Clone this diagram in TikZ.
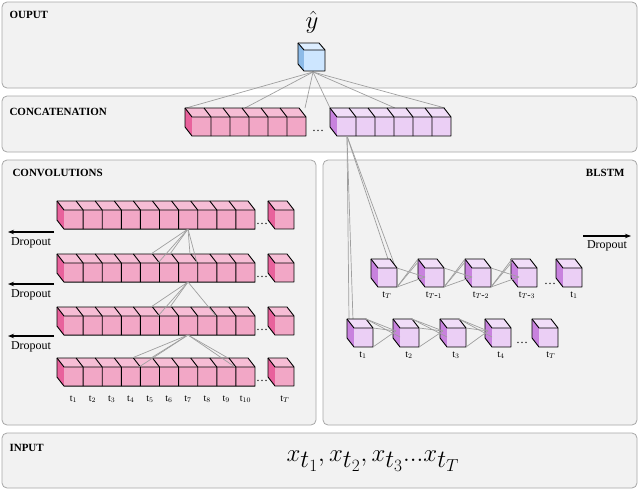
\documentclass[tikz,border=0pt]{standalone}
\usepackage{fontspec}
\setmainfont{Liberation Serif}
\usetikzlibrary{arrows.meta}
\definecolor{pf}{HTML}{F2A7C6}\definecolor{pt}{HTML}{F6BDD5}\definecolor{ps}{HTML}{E8629C}
\definecolor{vf}{HTML}{EBCFF5}\definecolor{vt}{HTML}{F1DDF8}\definecolor{vs}{HTML}{C882DE}
\definecolor{bf}{HTML}{CDE6FF}\definecolor{bt}{HTML}{DDEEFF}\definecolor{bs}{HTML}{8DBBE8}
\definecolor{panel}{HTML}{F2F2F2}
\newcommand\blk[9]{%
 \pgfmathsetmacro\bw{#3*#4}%
 \fill[#8] (#1,#2)--++(-#5,-#6)--++(\bw,0)--(#1+\bw,#2)--cycle;
 \fill[#9] (#1,#2)--++(-#5,-#6)--++(0,#4)--(#1,#2+#4)--cycle;
 \fill[#7] (#1,#2) rectangle ++(\bw,#4);
 \draw[cube] (#1,#2+#4)--++(-#5,-#6)--++(0,-#4)--++(\bw,0)--++(#5,#6)--++(0,#4)--cycle;
 \draw[cube] (#1-#5,#2-#6)--(#1,#2)--(#1+\bw,#2);
 \pgfmathtruncatemacro\nn{#3-1}%
 \ifnum\nn>0
 \foreach \i in {1,...,\nn}{\draw[cube] (#1+\i*#4,#2+#4)--(#1+\i*#4,#2)--++(-#5,-#6);}
 \fi}
\tikzset{x=1pt,y=-1pt,cube/.style={line width=0.9pt,line join=round},
 panelst/.style={draw=gray!70,fill=panel,rounded corners=5pt,line width=0.8pt},
 title/.style={font=\fontsize{11}{13}\selectfont\bfseries,anchor=west},
 lab/.style={font=\fontsize{12}{14}\selectfont},
 tl/.style={font=\fontsize{10}{11}\selectfont},
 conn/.style={draw=gray!75,line width=0.7pt},
 drop/.style={-{Stealth[length=6pt]},line width=1.2pt}}
\begin{document}
\begin{tikzpicture}
\useasboundingbox (0,0) rectangle (640,490);
\draw[panelst] (2,2) rectangle (637,88);
\draw[panelst] (2,96) rectangle (637,152);
\draw[panelst] (2,160) rectangle (316,425);
\draw[panelst] (323,160) rectangle (637,425);
\draw[panelst] (2,433) rectangle (637,488);
\node[title] (t1) at (6,15) {OUPUT};
\node[title] (t2) at (6,112) {CONCATENATION};
\node[title] (t3) at (9,173) {CONVOLUTIONS};
\node[title,anchor=east] (t4) at (628,173) {BLSTM};
\node[title] (t5) at (6,448) {INPUT};
% output
\node[inner sep=0pt] (yh) at (312,22) {\fontsize{26}{28}\selectfont$\hat{y}$};
\coordinate (ob) at (313,72);
\foreach \p in {(186,108),(245,108),(305,108),(330,108),(395,108),(445,108)} \draw[conn] (ob)--\p;
\blk{304}{50}{1}{21}{6}{7}{bf}{bt}{bs}
% concatenation
\blk{192}{117}{6}{19}{7}{9}{pf}{pt}{ps}
\node[lab] (cd) at (318,131) {\dots};
\blk{337}{117}{6}{19}{7}{9}{vf}{vt}{vs}
\coordinate (cb) at (347,136);
% convolution rows
\foreach \yy/\k in {210/a,263/b,316/c,367/d}{
 \blk{64}{\yy}{10}{19.1}{7}{9}{pf}{pt}{ps}
 \node[lab] at (262,\yy+14) {\dots};
 \blk{275}{\yy}{1}{19}{7}{9}{pf}{pt}{ps}
}
\foreach \yy in {232,284,336}{
 \coordinate (da) at (54,\yy); \coordinate (db) at (8,\yy);
 \draw[drop] (da)--(db);
 \node[lab] at (31,\yy+11) {Dropout};
}
% conv connections
\coordinate (c1) at (188,229);
\foreach \p in {(151,254),(170,254),(190,254),(158,263),(197,263)} \draw[conn] (c1)--\p;
\coordinate (c2) at (188,282);
\foreach \p in {(151,307),(170,307),(158,316),(216,316)} \draw[conn] (c2)--\p;
\coordinate (c3) at (188,335);
\foreach \p in {(132,358),(151,358),(139,367),(235,367),(228,358)} \draw[conn] (c3)--\p;
\foreach \i in {1,...,10}{\node[tl] at (73.5+19.1*\i-19.1,399) {t$_{\i}$};}
\node[tl] at (285,399) {t$_{T}$};
% BLSTM
\draw[conn] (cb)--(391,268); \draw[conn] (cb)--(395,266);
\draw[conn] (cb)--(349,320); \draw[conn] (cb)--(353,320);
\foreach \xx/\l in {378/T,425/{T\mbox{-}1},472/{T\mbox{-}2},518/{T\mbox{-}3}}{
 \blk{\xx}{268}{1}{19}{7}{9}{vf}{vt}{vs}
 \node[tl] at (\xx+9,295) {t$_{\l}$};
}
\blk{563}{268}{1}{19}{7}{9}{vf}{vt}{vs}
\node[tl] at (574,295) {t$_{1}$};
\node[lab] at (550,284) {\dots};
\foreach \xx in {378,425,472}{
 \draw[conn] (\xx+19,287)--(\xx+40,262); \draw[conn] (\xx+19,287)--(\xx+47,277);
 \draw[conn] (\xx+19,268)--(\xx+47,277); \draw[conn] (\xx+19,287)--(\xx+40,259);
}
\foreach \xx/\l in {354/1,400/2,447/3,492/4}{
 \blk{\xx}{328}{1}{19}{7}{9}{vf}{vt}{vs}
 \node[tl] at (\xx+9,355) {t$_{\l}$};
}
\blk{539}{328}{1}{19}{7}{9}{vf}{vt}{vs}
\node[tl] at (551,355) {t$_{T}$};
\node[lab] at (522,343) {\dots};
\foreach \xx/\nx in {354/400,400/447,447/492}{
 \draw[conn] (\xx+12,319)--(\nx-4,331); \draw[conn] (\xx+19,328)--(\nx-4,331);
 \draw[conn] (\xx+19,347)--(\nx-4,331); \draw[conn] (\xx+12,319)--(\nx,337);
}
\coordinate (ra) at (583,236); \coordinate (rb) at (631,236);
\draw[drop] (ra)--(rb);
\node[lab] at (607,246) {Dropout};
% input
\node (inp) at (373,461) {\fontsize{34}{36}\selectfont$x_{t_1}, x_{t_2}, x_{t_3}...x_{t_T}$};
\end{tikzpicture}
\end{document}
